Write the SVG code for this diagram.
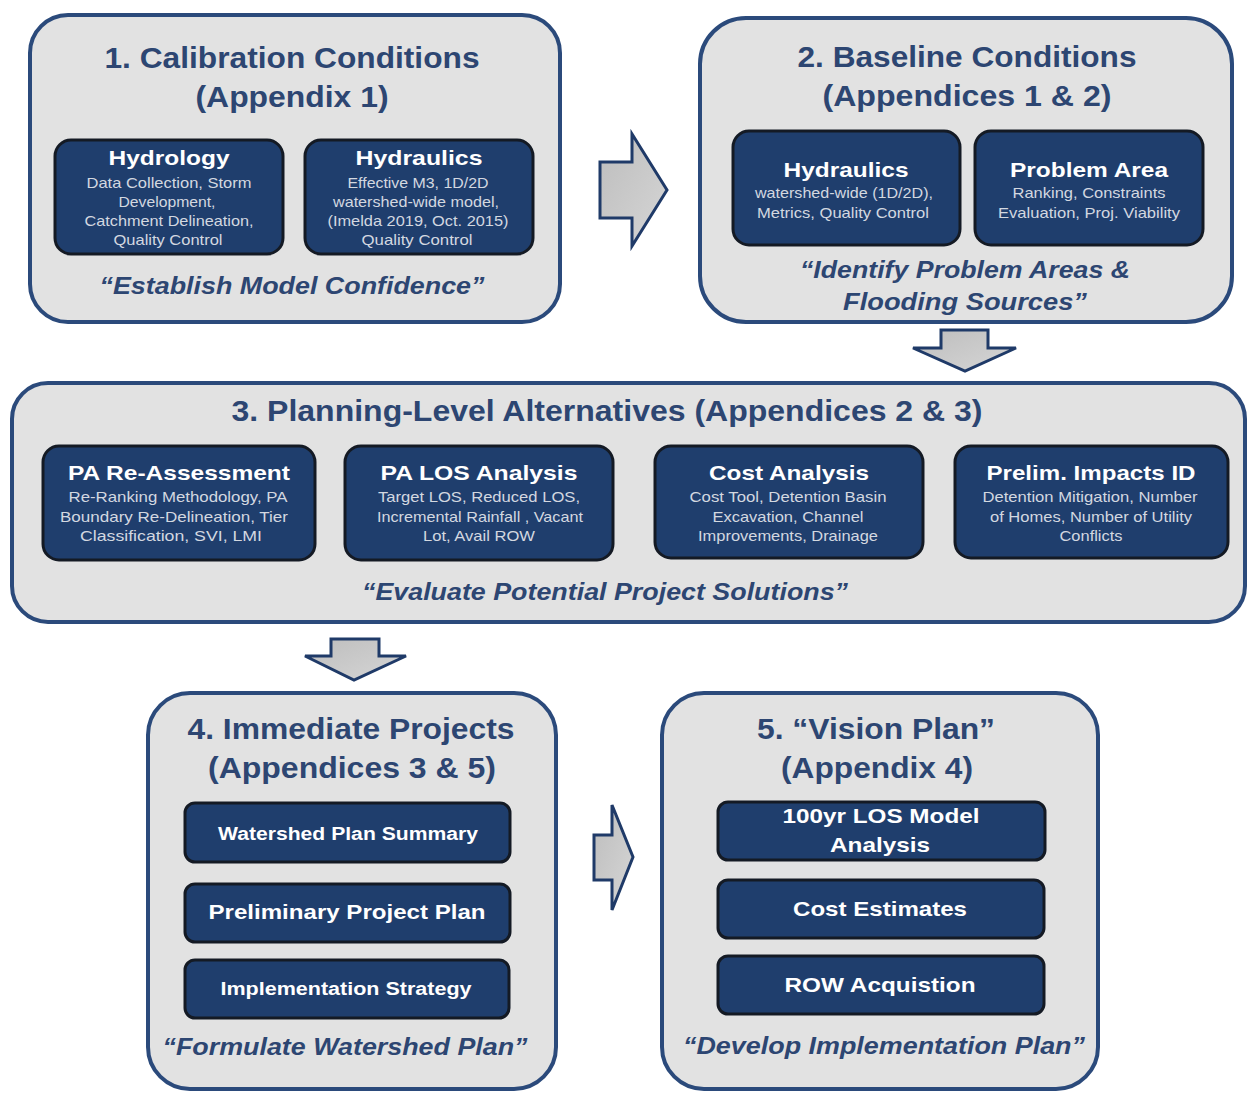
<svg xmlns="http://www.w3.org/2000/svg" width="1249" height="1093" viewBox="0 0 1249 1093">
  <style>
    .outer { fill: #e2e2e2; stroke: #2b4a7b; stroke-width: 4; }
    .inner { fill: #1f3e6d; stroke: #141a24; stroke-width: 3; }
    .arrow { fill: url(#arrowFill); stroke: #1f3a68; stroke-width: 3; stroke-linejoin: miter; }
    text { font-family: "Liberation Sans", Arial, sans-serif; text-anchor: middle; }
    .title { font-size: 29px; font-weight: bold; fill: #2d4672; }
    .quote { font-size: 23px; font-weight: bold; font-style: italic; fill: #2d4672; }
    .ititle { font-size: 21px; font-weight: bold; fill: #ffffff; }
    .istep { font-size: 18px; font-weight: bold; fill: #ffffff; }
    .sub { font-size: 15px; fill: #d3d8e0; }
  </style>
  <defs>
    <linearGradient id="arrowFill" x1="0" y1="0" x2="1" y2="1">
      <stop offset="0" stop-color="#bdbdbd"/>
      <stop offset="1" stop-color="#d6d6d6"/>
    </linearGradient>
  </defs>

  <rect width="1249" height="1093" fill="#ffffff"/>

  <!-- block arrows between the stages -->
  <g id="connectors">
    <polygon class="arrow" points="600,162 632,162 632,134 667,190 632,246 632,218 600,218"/>
    <polygon class="arrow" points="941,330 988,330 988,348 1016,348 965,371 913,348 941,348"/>
    <polygon class="arrow" points="331,639 379,639 379,656 406,656 354,680 305,656 331,656"/>
    <polygon class="arrow" points="594,835 612,835 612,805 633,857 612,910 612,880 594,880"/>
  </g>

  <!-- Stage 1 -->
  <g id="stage1">
    <rect class="outer" x="30" y="15" width="530" height="307" rx="38"/>
    <text class="title" x="292" y="68" textLength="375" lengthAdjust="spacingAndGlyphs">1. Calibration Conditions</text>
    <text class="title" x="292" y="107" textLength="193" lengthAdjust="spacingAndGlyphs">(Appendix 1)</text>
    <g id="s1-hydrology">
      <rect class="inner" x="55" y="140" width="228" height="114" rx="16"/>
      <text class="ititle" x="169" y="165" textLength="121" lengthAdjust="spacingAndGlyphs">Hydrology</text>
      <text class="sub" x="169" y="188" textLength="165" lengthAdjust="spacingAndGlyphs">Data Collection, Storm</text>
      <text class="sub" x="167" y="207" textLength="97" lengthAdjust="spacingAndGlyphs">Development,</text>
      <text class="sub" x="169" y="226" textLength="169" lengthAdjust="spacingAndGlyphs">Catchment Delineation,</text>
      <text class="sub" x="168" y="245" textLength="109" lengthAdjust="spacingAndGlyphs">Quality Control</text>
    </g>
    <g id="s1-hydraulics">
      <rect class="inner" x="305" y="140" width="228" height="114" rx="16"/>
      <text class="ititle" x="419" y="165" textLength="127" lengthAdjust="spacingAndGlyphs">Hydraulics</text>
      <text class="sub" x="418" y="188" textLength="141" lengthAdjust="spacingAndGlyphs">Effective M3, 1D/2D</text>
      <text class="sub" x="416" y="207" textLength="166" lengthAdjust="spacingAndGlyphs">watershed-wide model,</text>
      <text class="sub" x="418" y="226" textLength="181" lengthAdjust="spacingAndGlyphs">(Imelda 2019, Oct. 2015)</text>
      <text class="sub" x="417" y="245" textLength="111" lengthAdjust="spacingAndGlyphs">Quality Control</text>
    </g>
    <text class="quote" x="292" y="294" textLength="385" lengthAdjust="spacingAndGlyphs">“Establish Model Confidence”</text>
  </g>

  <!-- Stage 2 -->
  <g id="stage2">
    <rect class="outer" x="700" y="18" width="532" height="304" rx="46"/>
    <text class="title" x="967" y="67" textLength="339" lengthAdjust="spacingAndGlyphs">2. Baseline Conditions</text>
    <text class="title" x="967" y="106" textLength="289" lengthAdjust="spacingAndGlyphs">(Appendices 1 &amp; 2)</text>
    <g id="s2-hydraulics">
      <rect class="inner" x="733" y="131" width="227" height="114" rx="16"/>
      <text class="ititle" x="846" y="177" textLength="125" lengthAdjust="spacingAndGlyphs">Hydraulics</text>
      <text class="sub" x="844" y="198" textLength="178" lengthAdjust="spacingAndGlyphs">watershed-wide (1D/2D),</text>
      <text class="sub" x="843" y="218" textLength="172" lengthAdjust="spacingAndGlyphs">Metrics, Quality Control</text>
    </g>
    <g id="s2-problem-area">
      <rect class="inner" x="975" y="131" width="228" height="114" rx="16"/>
      <text class="ititle" x="1089" y="177" textLength="158" lengthAdjust="spacingAndGlyphs">Problem Area</text>
      <text class="sub" x="1089" y="198" textLength="153" lengthAdjust="spacingAndGlyphs">Ranking, Constraints</text>
      <text class="sub" x="1089" y="218" textLength="182" lengthAdjust="spacingAndGlyphs">Evaluation, Proj. Viability</text>
    </g>
    <text class="quote" x="965" y="278" textLength="330" lengthAdjust="spacingAndGlyphs">“Identify Problem Areas &amp;</text>
    <text class="quote" x="965" y="310" textLength="244" lengthAdjust="spacingAndGlyphs">Flooding Sources”</text>
  </g>

  <!-- Stage 3 -->
  <g id="stage3">
    <rect class="outer" x="12" y="383" width="1233" height="239" rx="36"/>
    <text class="title" x="607" y="421" textLength="751" lengthAdjust="spacingAndGlyphs">3. Planning-Level Alternatives (Appendices 2 &amp; 3)</text>
    <g id="s3-reassessment">
      <rect class="inner" x="43" y="446" width="272" height="114" rx="16"/>
      <text class="ititle" x="179" y="480" textLength="222" lengthAdjust="spacingAndGlyphs">PA Re-Assessment</text>
      <text class="sub" x="178" y="502" textLength="219" lengthAdjust="spacingAndGlyphs">Re-Ranking Methodology, PA</text>
      <text class="sub" x="174" y="522" textLength="228" lengthAdjust="spacingAndGlyphs">Boundary Re-Delineation, Tier</text>
      <text class="sub" x="171" y="541" textLength="182" lengthAdjust="spacingAndGlyphs">Classification, SVI, LMI</text>
    </g>
    <g id="s3-los">
      <rect class="inner" x="345" y="446" width="268" height="114" rx="16"/>
      <text class="ititle" x="479" y="480" textLength="197" lengthAdjust="spacingAndGlyphs">PA LOS Analysis</text>
      <text class="sub" x="479" y="502" textLength="202" lengthAdjust="spacingAndGlyphs">Target LOS, Reduced LOS,</text>
      <text class="sub" x="480" y="522" textLength="206" lengthAdjust="spacingAndGlyphs">Incremental Rainfall , Vacant</text>
      <text class="sub" x="479" y="541" textLength="112" lengthAdjust="spacingAndGlyphs">Lot, Avail ROW</text>
    </g>
    <g id="s3-cost">
      <rect class="inner" x="655" y="446" width="268" height="112" rx="16"/>
      <text class="ititle" x="789" y="480" textLength="160" lengthAdjust="spacingAndGlyphs">Cost Analysis</text>
      <text class="sub" x="788" y="502" textLength="197" lengthAdjust="spacingAndGlyphs">Cost Tool, Detention Basin</text>
      <text class="sub" x="788" y="522" textLength="151" lengthAdjust="spacingAndGlyphs">Excavation, Channel</text>
      <text class="sub" x="788" y="541" textLength="180" lengthAdjust="spacingAndGlyphs">Improvements, Drainage</text>
    </g>
    <g id="s3-impacts">
      <rect class="inner" x="955" y="446" width="273" height="112" rx="16"/>
      <text class="ititle" x="1091" y="480" textLength="209" lengthAdjust="spacingAndGlyphs">Prelim. Impacts ID</text>
      <text class="sub" x="1090" y="502" textLength="215" lengthAdjust="spacingAndGlyphs">Detention Mitigation, Number</text>
      <text class="sub" x="1091" y="522" textLength="202" lengthAdjust="spacingAndGlyphs">of Homes, Number of Utility</text>
      <text class="sub" x="1091" y="541" textLength="63" lengthAdjust="spacingAndGlyphs">Conflicts</text>
    </g>
    <text class="quote" x="605" y="600" textLength="486" lengthAdjust="spacingAndGlyphs">“Evaluate Potential Project Solutions”</text>
  </g>

  <!-- Stage 4 -->
  <g id="stage4">
    <rect class="outer" x="148" y="693" width="408" height="396" rx="42"/>
    <text class="title" x="351" y="739" textLength="327" lengthAdjust="spacingAndGlyphs">4. Immediate Projects</text>
    <text class="title" x="352" y="778" textLength="288" lengthAdjust="spacingAndGlyphs">(Appendices 3 &amp; 5)</text>
    <g id="s4-summary">
      <rect class="inner" x="185" y="803" width="325" height="59" rx="10"/>
      <text class="istep" x="348" y="840" textLength="260" lengthAdjust="spacingAndGlyphs">Watershed Plan Summary</text>
    </g>
    <g id="s4-preliminary">
      <rect class="inner" x="185" y="884" width="325" height="58" rx="10"/>
      <text class="ititle" x="347" y="919" textLength="277" lengthAdjust="spacingAndGlyphs">Preliminary Project Plan</text>
    </g>
    <g id="s4-strategy">
      <rect class="inner" x="185" y="960" width="324" height="58" rx="10"/>
      <text class="istep" x="346" y="995" textLength="251" lengthAdjust="spacingAndGlyphs">Implementation  Strategy</text>
    </g>
    <text class="quote" x="345" y="1055" textLength="365" lengthAdjust="spacingAndGlyphs">“Formulate Watershed Plan”</text>
  </g>

  <!-- Stage 5 -->
  <g id="stage5">
    <rect class="outer" x="662" y="693" width="436" height="396" rx="42"/>
    <text class="title" x="876" y="739" textLength="238" lengthAdjust="spacingAndGlyphs">5. “Vision Plan”</text>
    <text class="title" x="877" y="778" textLength="192" lengthAdjust="spacingAndGlyphs">(Appendix 4)</text>
    <g id="s5-model">
      <rect class="inner" x="718" y="802" width="327" height="58" rx="10"/>
      <text class="ititle" x="881" y="823" textLength="197" lengthAdjust="spacingAndGlyphs">100yr LOS Model</text>
      <text class="ititle" x="880" y="852" textLength="100" lengthAdjust="spacingAndGlyphs">Analysis</text>
    </g>
    <g id="s5-cost">
      <rect class="inner" x="718" y="880" width="326" height="58" rx="10"/>
      <text class="ititle" x="880" y="916" textLength="174" lengthAdjust="spacingAndGlyphs">Cost Estimates</text>
    </g>
    <g id="s5-row">
      <rect class="inner" x="718" y="956" width="326" height="58" rx="10"/>
      <text class="ititle" x="880" y="992" textLength="191" lengthAdjust="spacingAndGlyphs">ROW Acquistion</text>
    </g>
    <text class="quote" x="884" y="1054" textLength="402" lengthAdjust="spacingAndGlyphs">“Develop Implementation Plan”</text>
  </g>
</svg>
